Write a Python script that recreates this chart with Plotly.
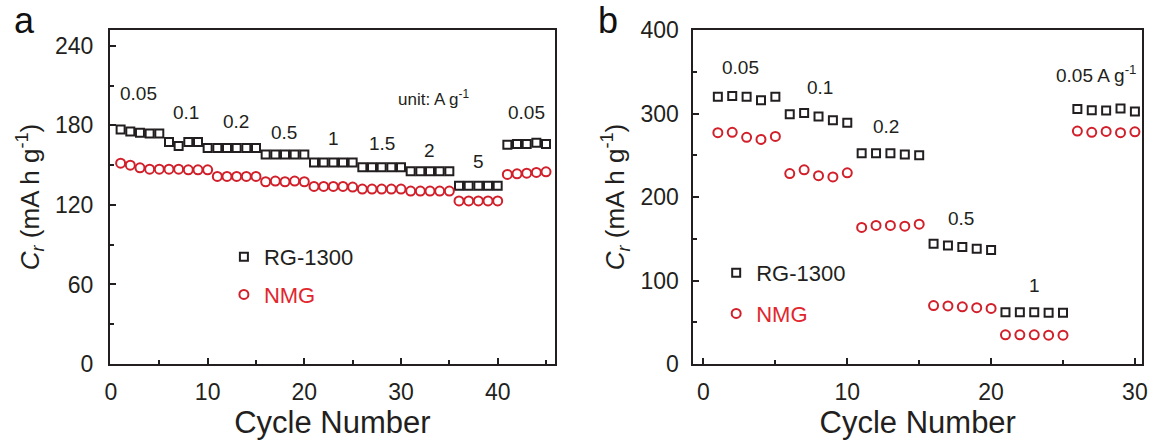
import plotly.graph_objects as go

# ---------------- data ----------------
cycles_a = list(range(1, 46))
rg_a = [177, 175.5, 174.5, 174, 174, 167.5, 164.5, 167.5, 167.5, 163,
        163, 163, 163, 163, 163, 158, 158, 158, 158, 158,
        152, 152, 152, 152, 152, 148.5, 148.5, 148.5, 148.5, 148.5,
        145.5, 145.5, 145.5, 145.5, 145.5, 134.5, 134.5, 134.5, 134.5, 134.5,
        165.5, 166, 166, 167, 166]
nmg_a = [151.5, 150, 148, 147, 147, 147, 147, 146.5, 146.5, 146.5,
         141.5, 141.5, 141.5, 141.5, 141.5, 137.5, 138, 137.5, 138, 137.5,
         134, 134, 134, 134, 133.5, 132, 132, 132, 132, 132,
         130.5, 130.5, 130.5, 130.5, 130.5, 123, 123, 123, 123, 123,
         143, 143.5, 144, 144.5, 145]
rate_labels_a = ["0.05", "0.1", "0.2", "0.5", "1", "1.5", "2", "5", "0.05"]
rate_pos_a_x = [2.9, 7.8, 12.9, 17.9, 23.0, 28.0, 32.9, 38.0, 43.0]
rate_pos_a_y = [204, 190, 183, 175, 170, 166, 161, 153, 190]

cycles_b = list(range(1, 31))
rg_b = [320, 321, 320, 316, 320, 299, 300.5, 296.5, 292, 289,
        252.5, 252.5, 252.5, 251, 250, 144, 142, 140, 138, 136.5,
        62, 62, 62, 61.5, 61.5, 305.5, 304, 303.5, 306, 302.5]
nmg_b = [277, 277.5, 271.5, 269, 272.5, 228, 232.5, 225.5, 224, 229,
         163.5, 166, 166, 165, 167.5, 70, 69.5, 68.5, 67.5, 66.5,
         35, 35, 35, 34.5, 34.5, 279, 277.5, 278.5, 277, 278]
rate_labels_b = ["0.05", "0.1", "0.2", "0.5", "1", "0.05 A g<sup>-1</sup>"]
rate_pos_b_x = [2.6, 8.1, 12.7, 17.9, 23.0, 30.3]
rate_pos_b_y = [355, 331, 285, 174, 94, 347]

# ---------------- style ----------------
FONT = "Arial, Liberation Sans, sans-serif"
TXT = "#231f20"
BLACK = "#231f20"
RED = "#d2202b"
RED_TXT = "#e1262d"

fig = go.Figure()

def add_pair(x, rg, nmg, xa, ya, leg):
    fig.add_trace(go.Scatter(
        x=x, y=rg, mode="markers", name="RG-1300", xaxis=xa, yaxis=ya,
        legend=leg, legendgroup=leg + "rg",
        marker=dict(symbol="square-open", size=8, color=BLACK,
                    line=dict(width=2, color=BLACK))))
    fig.add_trace(go.Scatter(
        x=x, y=nmg, mode="markers",
        name="<span style='color:%s'>NMG</span>" % RED_TXT,
        xaxis=xa, yaxis=ya, legend=leg, legendgroup=leg + "nmg",
        marker=dict(symbol="circle-open", size=9, color=RED,
                    line=dict(width=2, color=RED))))

add_pair(cycles_a, rg_a, nmg_a, "x", "y", "legend")
add_pair(cycles_b, rg_b, nmg_b, "x2", "y2", "legend2")

W, H = 1158, 442
ML, MR, MT, MB = 0, 0, 30, 78
plot_h = H - MT - MB

def py(px):
    return 1 - (px - MT) / plot_h

def axis_common():
    return dict(showline=True, linecolor=BLACK, linewidth=2, mirror=True,
                ticks="inside", tickcolor=BLACK, tickwidth=1.5, ticklen=6,
                showgrid=False, zeroline=False,
                tickfont=dict(family=FONT, size=23, color=TXT))

title_font_x = dict(family=FONT, size=31, color=TXT)
title_font_y = dict(family=FONT, size=26, color=TXT)
ytitle = "<i>C</i><sub><i>r</i></sub> (mA h g<sup>-1</sup>)"

xa = axis_common()
xa.update(domain=[106 / W, 555 / W], range=[-0.1, 45.9], tick0=0, dtick=10,
          minor=dict(ticks="inside", dtick=5, ticklen=4, tickcolor=BLACK, tickwidth=1.5),
          title=dict(text="Cycle Number", font=title_font_x, standoff=4),
          anchor="y", ticklabelstandoff=6)
ya = axis_common()
ya.update(domain=[0, 1], range=[0, 252], tick0=0, dtick=60,
          minor=dict(ticks="inside", dtick=30, ticklen=4, tickcolor=BLACK, tickwidth=1.5),
          title=dict(text=ytitle, font=title_font_y, standoff=8),
          anchor="x", ticklabelstandoff=10)
xb = axis_common()
xb.update(domain=[695 / W, 1148 / W], range=[-0.7, 30.5], tick0=0, dtick=10,
          minor=dict(ticks="inside", dtick=5, ticklen=4, tickcolor=BLACK, tickwidth=1.5),
          title=dict(text="Cycle Number", font=title_font_x, standoff=4),
          anchor="y2", ticklabelstandoff=6)
yb = axis_common()
yb.update(domain=[0, 1], range=[0, 400], tick0=0, dtick=100,
          minor=dict(ticks="inside", dtick=50, ticklen=4, tickcolor=BLACK, tickwidth=1.5),
          title=dict(text=ytitle, font=title_font_y, standoff=8),
          anchor="x2", ticklabelstandoff=8)

annotations = []
for t, x, y in zip(rate_labels_a, rate_pos_a_x, rate_pos_a_y):
    annotations.append(dict(text=t, x=x, y=y, xref="x", yref="y", showarrow=False,
                            font=dict(family=FONT, size=19, color=TXT)))
annotations.append(dict(text="unit: A g<sup>-1</sup>", x=33.4, y=201, xref="x", yref="y",
                        showarrow=False, font=dict(family=FONT, size=17, color=TXT)))
for t, x, y in zip(rate_labels_b, rate_pos_b_x, rate_pos_b_y):
    annotations.append(dict(text=t, x=x, y=y, xref="x2", yref="y2", showarrow=False,
                            xanchor="right" if "A g" in t else "center",
                            font=dict(family=FONT, size=19, color=TXT)))
# panel letters
annotations.append(dict(text="a", x=20 / W, y=py(20), xref="paper", yref="paper",
                        showarrow=False, xanchor="center", yanchor="middle",
                        font=dict(family=FONT, size=36, color="#111")))
annotations.append(dict(text="b", x=609 / W, y=py(20), xref="paper", yref="paper",
                        showarrow=False, xanchor="center", yanchor="middle",
                        font=dict(family=FONT, size=36, color="#111")))

leg_font = dict(family=FONT, size=22, color=TXT)
fig.update_layout(
    width=W, height=H,
    margin=dict(l=ML, r=MR, t=MT, b=MB),
    paper_bgcolor="white", plot_bgcolor="white",
    font=dict(family=FONT, color=TXT),
    xaxis=xa, yaxis=ya, xaxis2=xb, yaxis2=yb,
    showlegend=True,
    legend=dict(x=221 / W, y=py(236), xanchor="left", yanchor="top",
                bgcolor="rgba(0,0,0,0)", font=leg_font, tracegroupgap=6,
                itemsizing="trace", xref="paper", yref="paper"),
    legend2=dict(x=718 / W, y=py(252), xanchor="left", yanchor="top",
                 bgcolor="rgba(0,0,0,0)", font=leg_font, tracegroupgap=9,
                 itemsizing="trace", xref="paper", yref="paper"),
    annotations=annotations,
)

fig.write_html("out.html")
